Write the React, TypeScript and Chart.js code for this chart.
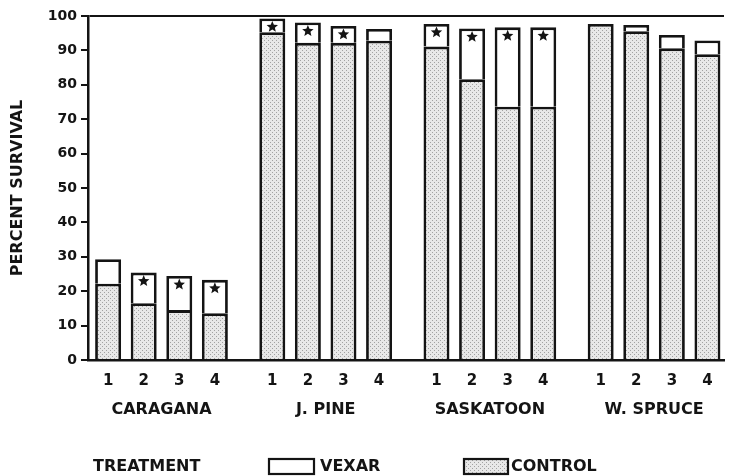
import React, { useEffect, useRef } from 'react';
import { Chart, registerables } from 'chart.js';

Chart.register(...registerables);

// Categories
const SPECIES = ['CARAGANA', 'J. PINE', 'SASKATOON', 'W. SPRUCE'];
const TREATMENTS = ['1', '2', '3', '4'];

// Control survival (%) for each species, one array per treatment
const CONTROL_T1 = [22.2, 95.3, 91.1, 97.7];
const CONTROL_T2 = [16.5, 92.2, 81.6, 95.6];
const CONTROL_T3 = [14.5, 92.2, 73.6, 90.6];
const CONTROL_T4 = [13.6, 92.8, 73.6, 88.9];

// Vexar survival (%) for each species, one array per treatment
const VEXAR_T1 = [29.3, 99.3, 97.7, 97.7];
const VEXAR_T2 = [25.4, 98.1, 96.4, 97.4];
const VEXAR_T3 = [24.4, 97.1, 96.7, 94.5];
const VEXAR_T4 = [23.3, 96.2, 96.7, 92.9];

// Significant difference markers (*)
const SIG_T1 = [false, true, true, false];
const SIG_T2 = [true, true, true, false];
const SIG_T3 = [true, true, true, false];
const SIG_T4 = [true, false, true, false];

const Y_MIN = 0;
const Y_MAX = 100;
const Y_STEP = 10;

const CONTROLS = [CONTROL_T1, CONTROL_T2, CONTROL_T3, CONTROL_T4];
const VEXARS = [VEXAR_T1, VEXAR_T2, VEXAR_T3, VEXAR_T4];
const SIGS = [SIG_T1, SIG_T2, SIG_T3, SIG_T4];

const FONT = '"DejaVu Sans", "Liberation Sans", Arial, sans-serif';
const INK = '#141414';

function drawStar(ctx: CanvasRenderingContext2D, cx: number, cy: number, r: number) {
  ctx.beginPath();
  for (let k = 0; k < 10; k++) {
    const rad = k % 2 === 0 ? r : r * 0.45;
    const a = -Math.PI / 2 + (k * Math.PI) / 5;
    const px = cx + rad * Math.cos(a);
    const py = cy + rad * Math.sin(a);
    if (k === 0) ctx.moveTo(px, py);
    else ctx.lineTo(px, py);
  }
  ctx.closePath();
  ctx.fill();
}

export default function App() {
  const canvasRef = useRef<HTMLCanvasElement | null>(null);

  useEffect(() => {
    const canvas = canvasRef.current;
    if (!canvas) return;
    const ctx = canvas.getContext('2d');
    if (!ctx) return;

    const pc = document.createElement('canvas');
    pc.width = 4;
    pc.height = 4;
    const p = pc.getContext('2d')!;
    p.fillStyle = '#e8e8e8';
    p.fillRect(0, 0, 4, 4);
    p.fillStyle = '#a2a2a2';
    p.fillRect(0, 0, 1, 1);
    p.fillRect(2, 2, 1, 1);
    const pattern = ctx.createPattern(pc, 'repeat')!;

    const datasets: any[] = [];
    TREATMENTS.forEach((t, ti) => {
      datasets.push({
        label: 'CONTROL',
        kind: 'control',
        stack: t,
        data: SPECIES.map((_, si) => ({ x: si, y: CONTROLS[ti][si] })),
        backgroundColor: pattern,
        borderColor: INK,
        borderWidth: 2.8,
        borderSkipped: 'start',
      });
      datasets.push({
        label: 'VEXAR',
        kind: 'vexar',
        stack: t,
        sig: SIGS[ti],
        data: SPECIES.map((_, si) => ({ x: si, y: VEXARS[ti][si] - CONTROLS[ti][si] })),
        backgroundColor: '#ffffff',
        borderColor: INK,
        borderWidth: 2.8,
        borderSkipped: 'start',
      });
    });

    const annotate = {
      id: 'annotate',
      afterDatasetsDraw(chart: any) {
        const c = chart.ctx as CanvasRenderingContext2D;
        c.save();
        c.fillStyle = INK;
        chart.data.datasets.forEach((ds: any, di: number) => {
          if (!ds.sig) return;
          const meta = chart.getDatasetMeta(di);
          meta.data.forEach((el: any, i: number) => {
            if (ds.sig[i]) drawStar(c, el.x, el.y + 8.5, 6);
          });
        });
        c.restore();
      },
      afterDraw(chart: any) {
        const c = chart.ctx as CanvasRenderingContext2D;
        const xs = chart.scales.x;
        const bottom = chart.chartArea.bottom;
        c.save();
        c.fillStyle = INK;
        c.textAlign = 'center';
        c.textBaseline = 'middle';
        c.font = `bold 15px ${FONT}`;
        chart.data.datasets.forEach((ds: any, di: number) => {
          if (ds.kind !== 'control') return;
          const meta = chart.getDatasetMeta(di);
          meta.data.forEach((el: any) => c.fillText(ds.stack, el.x, bottom + 21));
        });
        c.font = `bold 16px ${FONT}`;
        SPECIES.forEach((s, i) => c.fillText(s, xs.getPixelForValue(i), bottom + 50));

        // legend
        c.textAlign = 'left';
        c.fillText('TREATMENT', 93, 467);
        c.lineWidth = 2.2;
        c.strokeStyle = INK;
        c.fillStyle = '#ffffff';
        c.fillRect(269, 459, 45, 15);
        c.strokeRect(269, 459, 45, 15);
        c.fillStyle = pattern;
        c.fillRect(464, 459, 44, 15);
        c.strokeRect(464, 459, 44, 15);
        c.fillStyle = INK;
        c.fillText('VEXAR', 320, 467);
        c.fillText('CONTROL', 511, 467);
        c.restore();
      },
    };

    const chart = new Chart(ctx, {
      type: 'bar',
      data: { datasets },
      options: {
        animation: false,
        responsive: false,
        devicePixelRatio: 1,
        layout: { padding: { top: 16, right: 7, left: 0, bottom: 0 } },
        categoryPercentage: 0.867,
        barPercentage: 0.73,
        plugins: { legend: { display: false }, tooltip: { enabled: false } },
        scales: {
          x: {
            type: 'linear',
            min: -0.4476,
            max: 3.426,
            offset: false,
            grid: { display: false, drawTicks: false },
            ticks: { display: false },
            border: { display: true, color: INK, width: 2.5 },
            afterBuildTicks: (s: any) => {
              s.ticks = SPECIES.map((_, i) => ({ value: i }));
            },
            afterFit: (s: any) => {
              s.height = 116;
            },
          },
          y: {
            min: Y_MIN,
            max: Y_MAX,
            ticks: {
              stepSize: Y_STEP,
              color: INK,
              padding: 4,
              font: { family: FONT, weight: 'bold', size: 14 },
            },
            grid: {
              color: (c: any) => (c.tick && c.tick.value === Y_MAX ? INK : 'rgba(0,0,0,0)'),
              tickColor: INK,
              tickLength: 7,
              lineWidth: 2,
            },
            border: { display: true, color: INK, width: 2.5 },
            title: {
              display: true,
              text: 'PERCENT SURVIVAL',
              color: INK,
              font: { family: FONT, weight: 'bold', size: 16 },
              padding: { top: 8, bottom: 0 },
            },
            afterFit: (s: any) => {
              s.width = 88;
            },
          },
        },
      } as any,
      plugins: [annotate],
    });

    return () => chart.destroy();
  }, []);

  return (
    <div style={{ position: 'absolute', left: 0, top: 0, width: 731, height: 476, background: '#fff' }}>
      <canvas ref={canvasRef} width={731} height={476} />
    </div>
  );
}
